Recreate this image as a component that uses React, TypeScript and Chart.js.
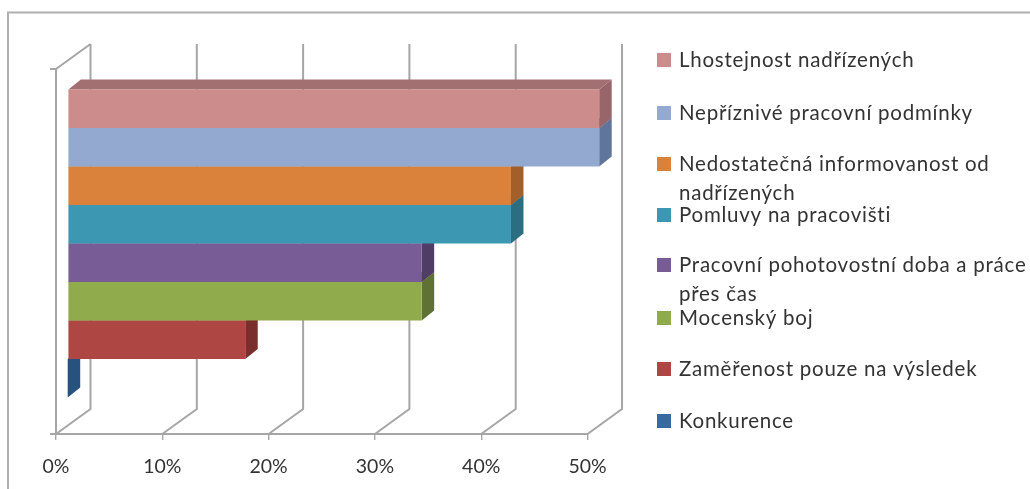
import React, { useEffect, useRef } from "react";
import { Chart, registerables } from "chart.js";

Chart.register(...registerables);

const seriesNames = [
  ["Lhostejnost nadřízených"],
  ["Nepříznivé pracovní podmínky"],
  ["Nedostatečná informovanost od", "nadřízených"],
  ["Pomluvy na pracovišti"],
  ["Pracovní pohotovostní doba a práce", "přes čas"],
  ["Mocenský boj"],
  ["Zaměřenost pouze na výsledek"],
  ["Konkurence"],
];
const seriesValues = [50, 50, 41.7, 41.7, 33.3, 33.3, 16.7, 0];
const frontColors = ["#CC8C8B", "#93A9CF", "#DA813B", "#3C97B2", "#775C96", "#8FAB4C", "#AE4744", "#376A9F"];
const sideColors = ["#98666A", "#5F7599", "#A35F2A", "#2B6E82", "#4F3D66", "#5F7233", "#7A2F2D", "#27517E"];
const topColors = ["#A37071", "#6E86AE", "#A86A33", "#327F95", "#5B4575", "#6C8239", "#853431", "#2C5B8D"];
const legendRowY = [60, 113, 164, 215, 265, 318, 369, 421];
const axisTicks = [0, 10, 20, 30, 40, 50];

const FONT = "Lato, 'Open Sans', sans-serif";
const LINE = "#A6A6A6";
// Projection of the 3D box: wall depth, and the bars' placement and depth inside it.
const WALL = { dx: 34.5, dy: 25 };
const BAR_SHIFT = { dx: 11.7, dy: 8 };
const BAR_DEPTH = { dx: 12.5, dy: 10 };

function polygon(ctx: CanvasRenderingContext2D, pts: number[][], fill: string) {
  ctx.beginPath();
  pts.forEach(([x, y], i) => (i ? ctx.lineTo(x, y) : ctx.moveTo(x, y)));
  ctx.closePath();
  ctx.fillStyle = fill;
  ctx.fill();
}

const box3d = {
  id: "box3d",
  // White background, the frame's top and left edges, walls and gridlines behind the bars.
  beforeDraw(chart: any) {
    const { ctx, chartArea: a, scales } = chart;
    ctx.save();
    ctx.fillStyle = "#FFFFFF";
    ctx.fillRect(0, 0, chart.width, chart.height);
    ctx.strokeStyle = "#B0B0B0";
    ctx.lineWidth = 2;
    ctx.beginPath();
    ctx.moveTo(8, chart.height);
    ctx.lineTo(8, 12.5);
    ctx.lineTo(chart.width, 12.5);
    ctx.stroke();

    ctx.strokeStyle = LINE;
    ctx.lineWidth = 2;
    ctx.beginPath();
    ctx.moveTo(a.left, a.top);
    ctx.lineTo(a.left, a.bottom);
    ctx.moveTo(a.left - 6, a.top);
    ctx.lineTo(a.left, a.top);
    ctx.moveTo(a.left - 6, a.bottom);
    ctx.lineTo(a.left, a.bottom);
    ctx.lineTo(a.right, a.bottom);
    ctx.moveTo(a.left, a.top);
    ctx.lineTo(a.left + WALL.dx, a.top - WALL.dy);
    axisTicks.forEach((t) => {
      const x = scales.x.getPixelForValue(t);
      ctx.moveTo(x, a.bottom);
      ctx.lineTo(x + WALL.dx, a.bottom - WALL.dy);
      ctx.lineTo(x + WALL.dx, a.top - WALL.dy);
    });
    ctx.stroke();
    ctx.restore();
  },
  beforeDatasetsDraw(chart: any) {
    chart.ctx.save();
    chart.ctx.translate(BAR_SHIFT.dx, -BAR_SHIFT.dy);
  },
  // Top and end faces go down just before each bar's front face.
  beforeDatasetDraw(chart: any, args: any) {
    const bar = chart.getDatasetMeta(args.index).data[0];
    const { x, y, base, height } = bar.getProps(["x", "y", "base", "height"], true);
    const t = y - height / 2;
    const b = y + height / 2;
    const { dx, dy } = BAR_DEPTH;
    const ctx = chart.ctx;
    polygon(ctx, [[base, t], [base + dx, t - dy], [x + dx, t - dy], [x, t]], topColors[args.index]);
    polygon(ctx, [[x, t], [x + dx, t - dy], [x + dx, b - dy], [x, b]], sideColors[args.index]);
  },
  afterDatasetsDraw(chart: any) {
    chart.ctx.restore();
  },
  // Legend: a swatch and one or two lines of text per series.
  afterDraw(chart: any) {
    const ctx = chart.ctx;
    ctx.save();
    ctx.font = `20.5px ${FONT}`;
    ctx.letterSpacing = "0.75px";
    ctx.textBaseline = "middle";
    ctx.textAlign = "left";
    chart.data.datasets.forEach((ds: any, i: number) => {
      const y = legendRowY[i];
      ctx.fillStyle = frontColors[i];
      ctx.fillRect(657, y - 7, 14, 14);
      ctx.fillStyle = "#333333";
      ds.lines.forEach((line: string, n: number) => ctx.fillText(line, 679, y + n * 29));
    });
    ctx.restore();
  },
};

export default function App() {
  const ref = useRef<HTMLCanvasElement>(null);
  useEffect(() => {
    const chart = new Chart(ref.current!, {
      type: "bar",
      data: {
        labels: [""],
        datasets: seriesNames.map((lines, i) => ({
          label: lines.join(" "),
          lines,
          data: [seriesValues[i]],
          backgroundColor: frontColors[i],
          borderWidth: 0,
          categoryPercentage: 0.844,
          barPercentage: 1,
          clip: false,
        })) as any,
      },
      options: {
        indexAxis: "y",
        animation: false,
        responsive: false,
        layout: { padding: { left: 56, right: 442.5, top: 69, bottom: 0 } },
        plugins: { legend: { display: false }, tooltip: { enabled: false } },
        scales: {
          x: {
            type: "linear",
            min: 0,
            max: 50,
            afterFit: (s: any) => {
              s.height = 55;
            },
            border: { display: false },
            grid: { drawOnChartArea: false, drawTicks: true, tickLength: 6, color: LINE, lineWidth: 1.4 },
            ticks: {
              stepSize: 10,
              padding: 15,
              maxRotation: 0,
              color: "#333333",
              font: { family: FONT, size: 19.5 },
              callback: (v: any) => `${v}%`,
            },
          },
          y: { display: false },
        },
      },
      plugins: [box3d],
    });
    return () => chart.destroy();
  }, []);
  return (
    <div style={{ position: "absolute", left: 0, top: 0, width: 1030, height: 489 }}>
      <canvas ref={ref} width={1030} height={489} style={{ display: "block" }} />
    </div>
  );
}
